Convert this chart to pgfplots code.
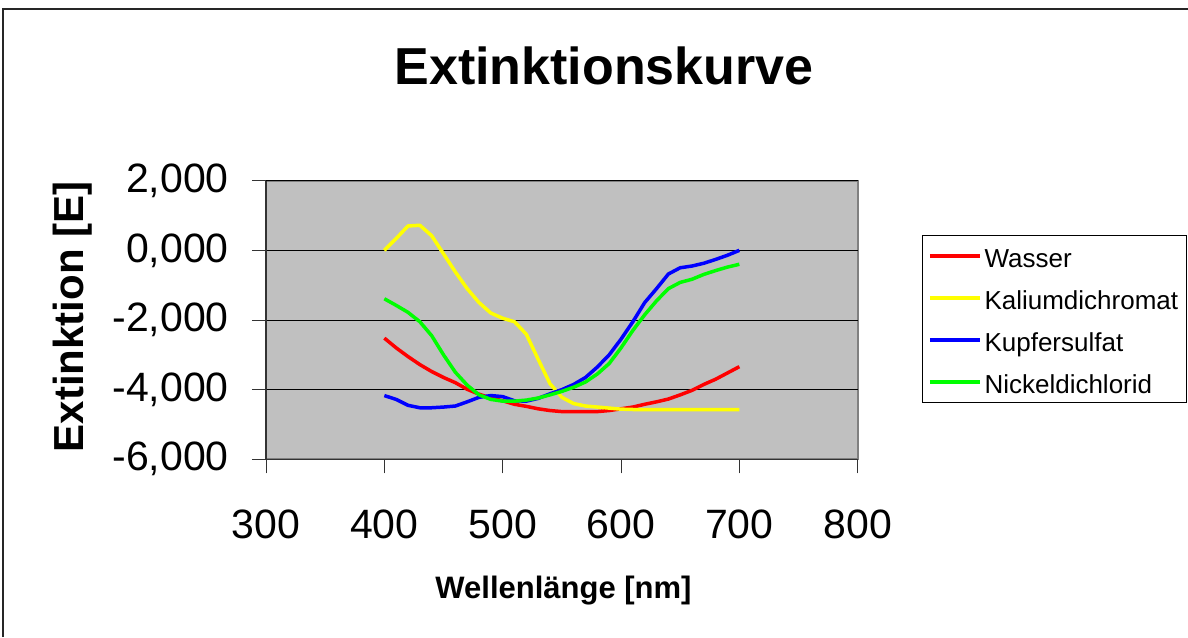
\documentclass[border=0pt]{standalone}
\usepackage{pgfplots}
\pgfplotsset{compat=1.18}
\usepackage{pgfplotstable}
\usepackage{fontspec}
\setmainfont{Liberation Sans}
\definecolor{plotbg}{HTML}{C0C0C0}
\definecolor{plotborder}{HTML}{808080}

\pgfplotstableread{
x    W      K      C      N
400 -2.52  0.00  -4.17  -1.39
410 -2.80  0.34  -4.28  -1.58
420 -3.05  0.70  -4.45  -1.78
430 -3.28  0.72  -4.52  -2.05
440 -3.48  0.42  -4.52  -2.45
450 -3.65 -0.10  -4.50  -3.00
460 -3.80 -0.62  -4.47  -3.50
470 -3.99 -1.10  -4.35  -3.87
480 -4.13 -1.50  -4.22  -4.15
490 -4.24 -1.80  -4.17  -4.28
500 -4.32 -1.95  -4.20  -4.33
510 -4.42 -2.05  -4.32  -4.33
520 -4.48 -2.41  -4.33  -4.30
530 -4.55 -3.13  -4.25  -4.24
540 -4.60 -3.83  -4.12  -4.15
550 -4.63 -4.22  -4.00  -4.05
560 -4.63 -4.40  -3.85  -3.93
570 -4.63 -4.47  -3.65  -3.78
580 -4.63 -4.50  -3.35  -3.55
590 -4.60 -4.53  -3.00  -3.25
600 -4.55 -4.56  -2.55  -2.80
610 -4.50 -4.57  -2.05  -2.30
620 -4.42 -4.57  -1.50  -1.85
630 -4.35 -4.57  -1.10  -1.45
640 -4.27 -4.57  -0.68  -1.10
650 -4.15 -4.57  -0.50  -0.92
660 -4.02 -4.57  -0.45  -0.83
670 -3.85 -4.57  -0.37  -0.69
680 -3.70 -4.57  -0.26  -0.58
690 -3.52 -4.57  -0.14  -0.48
700 -3.34 -4.57   0.00  -0.40
}\datatable

\begin{document}
\begin{tikzpicture}
\useasboundingbox (0,0) rectangle (1188pt,637pt);
% outer chart frame (cropped at right and bottom)
\draw[line width=1.5pt, black!85] (3pt,0pt) -- (3pt,628pt) -- (1190pt,628pt);

\begin{axis}[
  at={(266pt,177.7pt)}, anchor=south west,
  scale only axis, width=591.7pt, height=278.6pt,
  xmin=300, xmax=800, ymin=-6, ymax=2,
  axis lines=left, axis line style={-, black!80, line width=1.2pt},
  axis background/.style={fill=plotbg, draw=plotborder, line width=2pt},
  xtick={300,400,500,600,700,800},
  xticklabels={300,400,500,600,700,800},
  ytick={-6,-4,-2,0,2},
  yticklabels={{-6,000},{-4,000},{-2,000},{0,000},{2,000}},
  tick align=outside, major tick length=14pt,
  tick style={black!80, line width=1pt},
  ymajorgrids, grid style={black, line width=0.9pt},
  ticklabel style={font=\fontsize{41}{48}\selectfont},
  xticklabel style={anchor=base, inner sep=0pt, yshift=-65pt},
  yticklabel style={anchor=east, inner sep=0pt, xshift=-23pt},
  legend style={at={(1.1087,0.805)}, anchor=north west, draw=black, line width=1pt,
    fill=white, inner sep=5.5pt, row sep=12pt,
    font=\fontsize{26}{30}\selectfont,
    nodes={anchor=west, text height=23pt, text depth=1pt, inner sep=3pt}},
  legend cell align=left,
  legend image code/.code={\draw[#1, line width=3.5pt] (0pt,0pt) -- (50pt,0pt);},
  every axis plot/.append style={line width=3.5pt, line join=round, no marks},
]
\addplot[color={rgb,255:red,255;green,0;blue,0}] table[x=x,y=W] {\datatable};
\addlegendentry{Wasser}
\addplot[color={rgb,255:red,255;green,255;blue,0}] table[x=x,y=K] {\datatable};
\addlegendentry{Kaliumdichromat}
\addplot[color={rgb,255:red,0;green,0;blue,255}] table[x=x,y=C] {\datatable};
\addlegendentry{Kupfersulfat}
\addplot[color={rgb,255:red,0;green,255;blue,0}] table[x=x,y=N] {\datatable};
\addlegendentry{Nickeldichlorid}
\end{axis}

\node[anchor=base, font=\fontsize{52}{60}\selectfont\bfseries] at (604pt,552pt) {Extinktionskurve};
\node[anchor=base, rotate=90, font=\fontsize{42}{50}\selectfont\bfseries] at (83pt,320pt) {Extinktion [E]};
\node[anchor=base, font=\fontsize{31}{36}\selectfont\bfseries] at (563.5pt,38.7pt) {Wellenlänge [nm]};
\end{tikzpicture}
\end{document}
